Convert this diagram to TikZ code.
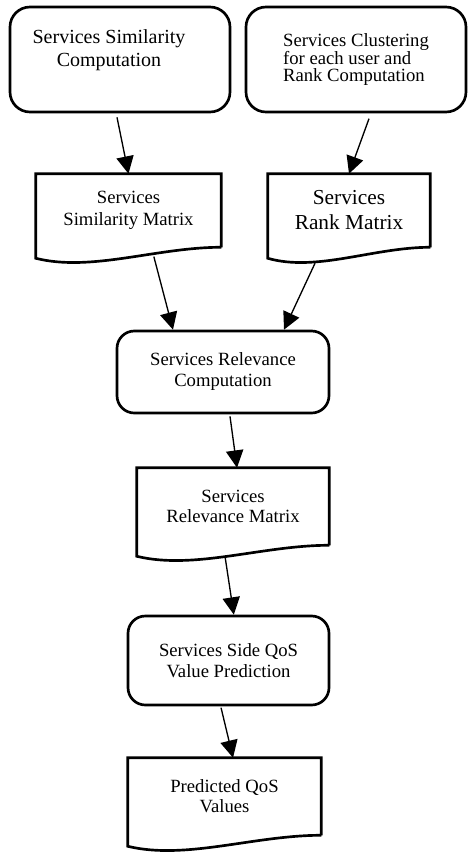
\documentclass[tikz,border=0pt]{standalone}
\usepackage{fontspec}
\setmainfont{Liberation Serif}
\usetikzlibrary{arrows.meta}
\tikzset{
  procbox/.style={draw, line width=2pt, rounded corners=13pt, inner sep=0pt},
  docbox/.style={inner sep=0pt, align=center},
  flowarrow/.style={-{Triangle[length=13pt,width=13pt]}, line width=1pt}
}
\begin{document}
\begin{tikzpicture}[x=0.75pt,y=-0.75pt]
\useasboundingbox (0,0) rectangle (467,852);
\node[procbox, rounded corners=15pt, minimum width=165pt, minimum height=78.75pt] (simcomp) at (120,59.5) {};
\node[align=center, font=\fontsize{15pt}{17pt}\selectfont] (simcomplbl) at (109,50) {Services Similarity\\Computation};
\node[procbox, rounded corners=15pt, minimum width=165pt, minimum height=78.75pt, align=left, font=\fontsize{14pt}{12.5pt}\selectfont] (rankcomp) at (356,59.5) {Services Clustering\\for each user and\\Rank Computation};
\node[docbox, minimum width=138.75pt, minimum height=54.75pt, font=\fontsize{14pt}{16.5pt}\selectfont] (simmat) at (128.5,210.5) {Services\\Similarity Matrix};
\node[docbox, minimum width=121.5pt, minimum height=54.75pt, font=\fontsize{16pt}{18.75pt}\selectfont] (rankmat) at (349,210.5) {Services\\Rank Matrix};
\node[procbox, minimum width=159pt, minimum height=61.5pt, align=center, font=\fontsize{14pt}{15.75pt}\selectfont] (relcomp) at (223,372) {Services Relevance\\Computation};
\node[docbox, minimum width=144pt, minimum height=57.75pt, font=\fontsize{14pt}{15pt}\selectfont] (relmat) at (233,506.5) {Services\\Relevance Matrix};
\node[procbox, minimum width=150.75pt, minimum height=66.75pt, align=center, font=\fontsize{14pt}{15.75pt}\selectfont] (qospred) at (228.5,660.5) {Services Side QoS\\Value Prediction};
\node[docbox, minimum width=144.75pt, minimum height=57.75pt, font=\fontsize{14pt}{15pt}\selectfont] (qosval) at (224.5,796.5) {Predicted QoS\\Values};
\foreach \n/\w in {simmat/185, rankmat/162, relmat/192, qosval/193}
  \draw[line width=2pt] (\n.south east) -- (\n.north east) -- (\n.north west) -- ([yshift=-8.25pt]\n.south west) .. controls +({0.3*\w},14) and +({-0.35*\w},0) .. (\n.south east);
\draw[flowarrow] ([xshift=-2.25pt,yshift=-3pt]simcomp.south) -- (simmat.north);
\draw[flowarrow] ([xshift=9.75pt,yshift=-4pt]rankcomp.south) -- (rankmat.north);
\draw[flowarrow] ([xshift=19pt,yshift=-7pt]simmat.south) -- ([xshift=-37.5pt]relcomp.north);
\draw[flowarrow] ([xshift=-25.5pt,yshift=-12pt]rankmat.south) -- ([xshift=45.75pt]relcomp.north);
\draw[flowarrow] ([xshift=5.25pt,yshift=-1.5pt]relcomp.south) -- ([xshift=3pt]relmat.north);
\draw[flowarrow] ([xshift=-6pt,yshift=-8.25pt]relmat.south) -- ([xshift=4pt]qospred.north);
\draw[flowarrow] ([xshift=-5.6pt,yshift=-1pt]qospred.south) -- ([xshift=6.4pt]qosval.north);
\end{tikzpicture}
\end{document}
